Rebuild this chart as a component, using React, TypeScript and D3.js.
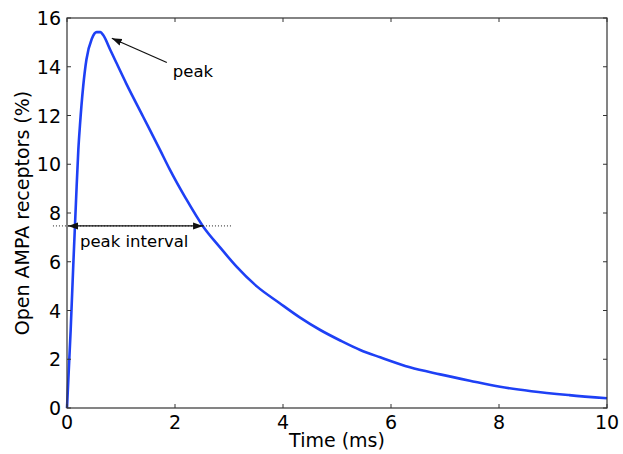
import React, { useEffect, useRef } from 'react';
import * as d3 from 'd3';

// time (ms) and open receptors (%)
const timeMs = [0, 0.068, 0.117, 0.167, 0.21, 0.24, 0.3, 0.36, 0.46, 0.55, 0.62, 0.67, 0.8, 1.1, 1.41, 1.72, 1.9, 2.2, 2.52, 2.83, 3.14, 3.51, 3.94, 4.31, 4.69, 5.06, 5.43, 5.8, 6.35, 6.91, 7.46, 8.02, 8.6, 9.3, 10];
const openPct = [0, 3.2, 5.9, 8.5, 10.6, 11.6, 13.2, 14.3, 15.15, 15.42, 15.42, 15.3, 14.7, 13.3, 11.95, 10.6, 9.8, 8.6, 7.45, 6.6, 5.8, 5.0, 4.3, 3.72, 3.2, 2.77, 2.38, 2.08, 1.67, 1.38, 1.12, 0.87, 0.69, 0.53, 0.4];

const xTicks = [0, 2, 4, 6, 8, 10];
const yTicks = [0, 2, 4, 6, 8, 10, 12, 14, 16];

// annotation anchors (data coords)
const peakTip = [0.83, 15.17];
const peakText = [1.96, 13.6];
const halfLevel = 7.47;
const intervalSpan = [0.02, 2.52];
const dottedSpan = [-0.26, 3.05];
const intervalText = [0.24, 6.6];

const W = 623;
const H = 454;
const FONT = 'DejaVu Sans, sans-serif';

const App = () => {
  const ref = useRef<SVGSVGElement | null>(null);

  useEffect(() => {
    if (!ref.current) return;
    const svg = d3.select(ref.current);
    svg.selectAll('*').remove();

    const left = 67, right = 607, top = 18, bottom = 408;
    const x = d3.scaleLinear().domain([0, 10]).range([left, right]);
    const y = d3.scaleLinear().domain([0, 16]).range([bottom, top]);

    svg.append('rect').attr('width', W).attr('height', H).attr('fill', '#fff');

    const defs = svg.append('defs');
    defs.append('marker')
      .attr('id', 'head')
      .attr('viewBox', '0 0 10 10')
      .attr('refX', 10).attr('refY', 5)
      .attr('markerWidth', 10).attr('markerHeight', 10)
      .attr('markerUnits', 'userSpaceOnUse')
      .attr('orient', 'auto-start-reverse')
      .append('path')
      .attr('d', 'M0,1.5 L10,5 L0,8.5 Z')
      .attr('fill', '#111');

    // curve
    const line = d3.line<number>()
      .x((_, i) => x(timeMs[i]))
      .y(d => y(d))
      .curve(d3.curveMonotoneX);

    svg.append('path')
      .datum(openPct)
      .attr('d', line)
      .attr('fill', 'none')
      .attr('stroke', '#1e40f5')
      .attr('stroke-width', 2.6)
      .attr('stroke-linejoin', 'round');

    // dotted half-max line
    svg.append('line')
      .attr('x1', x(dottedSpan[0])).attr('x2', x(dottedSpan[1]))
      .attr('y1', y(halfLevel)).attr('y2', y(halfLevel))
      .attr('stroke', '#222').attr('stroke-width', 1)
      .attr('stroke-dasharray', '1,2');

    // interval arrow
    svg.append('line')
      .attr('x1', x(intervalSpan[0])).attr('x2', x(intervalSpan[1]))
      .attr('y1', y(halfLevel)).attr('y2', y(halfLevel))
      .attr('stroke', '#111').attr('stroke-width', 1.3)
      .attr('marker-start', 'url(#head)')
      .attr('marker-end', 'url(#head)');

    svg.append('text')
      .attr('x', x(intervalText[0])).attr('y', y(intervalText[1]))
      .attr('font-family', FONT).attr('font-size', 16.5)
      .text('peak interval');

    // peak annotation
    svg.append('line')
      .attr('x1', x(peakText[0]) - 6).attr('y1', y(peakText[1]) - 14)
      .attr('x2', x(peakTip[0])).attr('y2', y(peakTip[1]))
      .attr('stroke', '#111').attr('stroke-width', 1.3)
      .attr('marker-end', 'url(#head)');

    svg.append('text')
      .attr('x', x(peakText[0])).attr('y', y(peakText[1]))
      .attr('font-family', FONT).attr('font-size', 16.5)
      .text('peak');

    // frame
    svg.append('rect')
      .attr('x', left).attr('y', top)
      .attr('width', right - left).attr('height', bottom - top)
      .attr('fill', 'none').attr('stroke', '#333').attr('stroke-width', 1.2);

    // inward ticks on all sides
    const tl = 4;
    xTicks.forEach(t => {
      svg.append('line').attr('x1', x(t)).attr('x2', x(t)).attr('y1', bottom).attr('y2', bottom - tl).attr('stroke', '#333');
      svg.append('line').attr('x1', x(t)).attr('x2', x(t)).attr('y1', top).attr('y2', top + tl).attr('stroke', '#333');
      svg.append('text')
        .attr('x', x(t)).attr('y', bottom + 21)
        .attr('text-anchor', 'middle')
        .attr('font-family', FONT).attr('font-size', 19)
        .text(t);
    });
    yTicks.forEach(t => {
      svg.append('line').attr('x1', left).attr('x2', left + tl).attr('y1', y(t)).attr('y2', y(t)).attr('stroke', '#333');
      svg.append('line').attr('x1', right).attr('x2', right - tl).attr('y1', y(t)).attr('y2', y(t)).attr('stroke', '#333');
      svg.append('text')
        .attr('x', left - 6).attr('y', y(t) + 7)
        .attr('text-anchor', 'end')
        .attr('font-family', FONT).attr('font-size', 19)
        .text(t);
    });

    svg.append('text')
      .attr('x', (left + right) / 2).attr('y', 447)
      .attr('text-anchor', 'middle')
      .attr('font-family', FONT).attr('font-size', 19)
      .text('Time (ms)');

    svg.append('text')
      .attr('transform', `translate(29,${(top + bottom) / 2}) rotate(-90)`)
      .attr('text-anchor', 'middle')
      .attr('font-family', FONT).attr('font-size', 19)
      .text('Open AMPA receptors (%)');
  }, []);

  return (
    <svg
      ref={ref}
      width={W}
      height={H}
      style={{ position: 'absolute', top: 0, left: 0 }}
    />
  );
};

export default App;
